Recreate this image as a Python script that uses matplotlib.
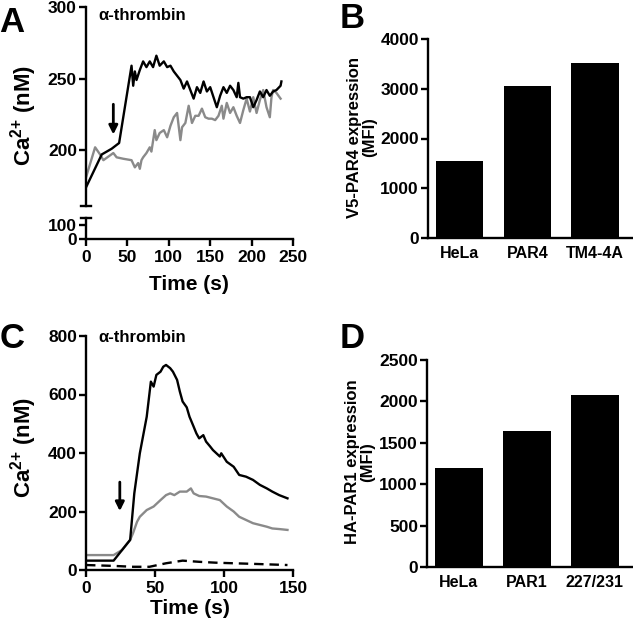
import numpy as np
import matplotlib
matplotlib.use("Agg")
import matplotlib.pyplot as plt

plt.rcParams['font.family'] = ['Liberation Sans', 'DejaVu Sans']
plt.rcParams['font.weight'] = 'bold'
plt.rcParams['axes.linewidth'] = 1.7
plt.rcParams['mathtext.fontset'] = 'custom'
plt.rcParams['mathtext.rm'] = 'Liberation Sans:bold'
plt.rcParams['mathtext.bf'] = 'Liberation Sans:bold'
plt.rcParams['mathtext.it'] = 'Liberation Sans:bold'
plt.rcParams['mathtext.default'] = 'rm'

# ---- data ----
# panel A: Ca2+ trace, alpha-thrombin (black = cells 1, gray = cells 2)
a_black_t = [0, 19, 31, 40, 55, 57, 59, 61, 65, 69, 73, 77, 81, 85, 89, 94, 98, 102, 106, 110,
             114, 118, 122, 126, 130, 134, 138, 142, 146, 150, 154, 158, 162, 166, 170, 174,
             178, 182, 184, 186, 190, 194, 198, 202, 206, 210, 214, 218, 222, 226, 230, 235, 236]
a_black_ca = [174, 197, 201, 205, 259, 245, 255, 249, 256, 262, 258, 262, 258, 266, 259, 262, 258, 259, 255, 252,
              249, 243, 248, 242, 236, 244, 240, 248, 241, 244, 237, 230, 238, 244, 240, 245,
              242, 237, 247, 237, 236, 237, 237, 230, 235, 241, 237, 242, 238, 241, 242, 245, 248]
a_gray_t = [0, 11, 17, 21, 33, 37, 45, 55, 59, 63, 65, 67, 69, 73, 77, 79, 83, 85, 89, 94, 98, 102,
            106, 110, 114, 116, 120, 124, 128, 132, 136, 140, 144, 148, 152, 156, 160, 164, 166,
            170, 174, 178, 182, 186, 190, 194, 198, 202, 206, 210, 214, 218, 222, 224, 226, 230, 235]
a_gray_ca = [181, 202, 197, 193, 198, 195, 194, 193, 188, 191, 187, 193, 195, 198, 202, 199, 214, 207, 212, 214, 209, 217,
             223, 226, 207, 216, 219, 231, 219, 224, 224, 229, 223, 222, 222, 221, 224, 231, 222,
             233, 226, 230, 224, 219, 228, 236, 227, 237, 226, 235, 242, 230, 223, 237, 242, 240, 236]

# panel B: V5-PAR4 expression
b_labels = ['HeLa', 'PAR4', 'TM4-4A']
b_mfi = [1550, 3050, 3520]

# panel C: Ca2+ trace, alpha-thrombin (black, gray, dashed)
c_black_t = [0, 20, 32, 35, 39, 44, 47, 49, 51, 54, 56, 58, 61, 63, 66, 68, 70, 73, 75, 78, 80, 82,
             85, 87, 90, 92, 97, 98, 102, 107, 111, 116, 121, 126, 131, 135, 140, 146]
c_black_ca = [32, 32, 103, 262, 399, 524, 644, 627, 667, 678, 695, 701, 690, 678, 650, 610, 576, 556, 524, 490, 467, 450,
              461, 439, 422, 410, 388, 399, 370, 353, 325, 319, 308, 291, 279, 268, 256, 245]
c_gray_t = [0, 20, 26, 32, 34, 37, 39, 44, 49, 54, 58, 61, 64, 68, 73, 76, 78, 82, 87, 92, 97, 102,
            107, 111, 116, 121, 126, 131, 135, 140, 146]
c_gray_ca = [51, 51, 68, 103, 125, 165, 182, 205, 217, 239, 256, 262, 256, 268, 268, 279, 262, 253, 251, 245, 239, 217,
             200, 182, 171, 160, 154, 148, 142, 140, 137]
c_dash_t = [0, 20, 34, 46, 58, 70, 82, 94, 107, 121, 146]
c_dash_ca = [17, 14, 11, 11, 23, 32, 28, 25, 23, 21, 17]

# panel D: HA-PAR1 expression
d_labels = ['HeLa', 'PAR1', '227/231']
d_mfi = [1190, 1640, 2075]

GRAY = '#8a8a8a'
LW = 1.7
W, H = 633, 634


def px_axes(left, top, right, bottom):
    return [left / W, 1 - bottom / H, (right - left) / W, (bottom - top) / H]


def style(ax):
    for s in ['top', 'right']:
        ax.spines[s].set_visible(False)
    ax.tick_params(axis='both', direction='out', length=5, width=1.7, labelsize=12.5)
    ax.tick_params(axis='y', pad=1.5)
    ax.tick_params(axis='x', pad=3)
    for lab in ax.get_xticklabels() + ax.get_yticklabels():
        lab.set_fontweight('bold')


fig = plt.figure(figsize=(6.33, 6.34), dpi=100)

# ---- A (broken y axis) ----
axA = fig.add_axes(px_axes(86, 7, 293, 206))
axA0 = fig.add_axes(px_axes(86, 218, 293, 239))
axA.plot(a_gray_t, a_gray_ca, color=GRAY, lw=LW)
axA.plot(a_black_t, a_black_ca, color='black', lw=LW)
axA.set_xlim(0, 250)
axA.set_ylim(161, 300)
axA.set_yticks([200, 250, 300])
axA.spines['bottom'].set_visible(False)
axA.set_xticks([])
style(axA)
axA0.set_xlim(0, 250)
axA0.set_ylim(0, 150)
axA0.set_yticks([0, 100])
axA0.set_xticks([0, 50, 100, 150, 200, 250])
style(axA0)
# break caps
axA.plot([-0.024, 0.024], [0, 0], transform=axA.transAxes, color='black', lw=1.7, clip_on=False)
axA0.plot([-0.024, 0.024], [1, 1], transform=axA0.transAxes, color='black', lw=1.7, clip_on=False)
axA.annotate('', xy=(33, 209), xytext=(33, 234),
             arrowprops=dict(arrowstyle='-|>', lw=2, color='black', mutation_scale=13))

# ---- B ----
axB = fig.add_axes(px_axes(428, 39, 633, 238))
axB.bar(range(len(b_labels)), b_mfi, width=0.7, color='black')
axB.set_xlim(-0.47, 2.56)
axB.set_ylim(0, 4000)
axB.set_yticks([0, 1000, 2000, 3000, 4000])
axB.set_xticks(range(len(b_labels)))
axB.set_xticklabels(b_labels)
style(axB)
axB.tick_params(axis='x', length=0, pad=6, labelsize=11.5)

# ---- C ----
axC = fig.add_axes(px_axes(86, 336, 293, 570))
axC.plot(c_dash_t, c_dash_ca, color='black', lw=LW, ls=(0, (4, 2.5)))
axC.plot(c_gray_t, c_gray_ca, color=GRAY, lw=LW)
axC.plot(c_black_t, c_black_ca, color='black', lw=LW)
axC.set_xlim(0, 150)
axC.set_ylim(0, 800)
axC.set_yticks([0, 200, 400, 600, 800])
axC.set_xticks([0, 50, 100, 150])
style(axC)
axC.annotate('', xy=(24.5, 192), xytext=(24.5, 310),
             arrowprops=dict(arrowstyle='-|>', lw=2, color='black', mutation_scale=13))

# ---- D ----
axD = fig.add_axes(px_axes(427, 360, 633, 567))
axD.bar(range(len(d_labels)), d_mfi, width=0.7, color='black')
axD.set_xlim(-0.47, 2.56)
axD.set_ylim(0, 2500)
axD.set_yticks([0, 500, 1000, 1500, 2000, 2500])
axD.set_xticks(range(len(d_labels)))
axD.set_xticklabels(d_labels)
style(axD)
axD.tick_params(axis='x', length=0, pad=6, labelsize=11.5)


def ftext(x, y, s, **kw):
    fig.text(x / W, 1 - y / H, s, ha=kw.pop('ha', 'center'), va=kw.pop('va', 'center'),
             fontweight='bold', **kw)


# panel letters
ftext(12, 23, 'A', fontsize=25)
ftext(352, 19, 'B', fontsize=25)
ftext(12, 339, 'C', fontsize=25)
ftext(352, 339, 'D', fontsize=25)

# annotations
ftext(98, 16, 'α-thrombin', ha='left', fontsize=12)
ftext(98, 338, 'α-thrombin', ha='left', fontsize=12)

# axis labels
ca_label = r'Ca$^{2{+}}$ (nM)'
ftext(24, 116, ca_label, rotation=90, fontsize=16)
ftext(189, 285, 'Time (s)', fontsize=15)
ftext(24, 448, ca_label, rotation=90, fontsize=16)
ftext(190, 608, 'Time (s)', fontsize=15)
ftext(362, 137, 'V5-PAR4 expression\n(MFI)', rotation=90, fontsize=12, linespacing=1.0)
ftext(360, 462, 'HA-PAR1 expression\n(MFI)', rotation=90, fontsize=12, linespacing=1.0)

fig.savefig('out.png', dpi=100)
